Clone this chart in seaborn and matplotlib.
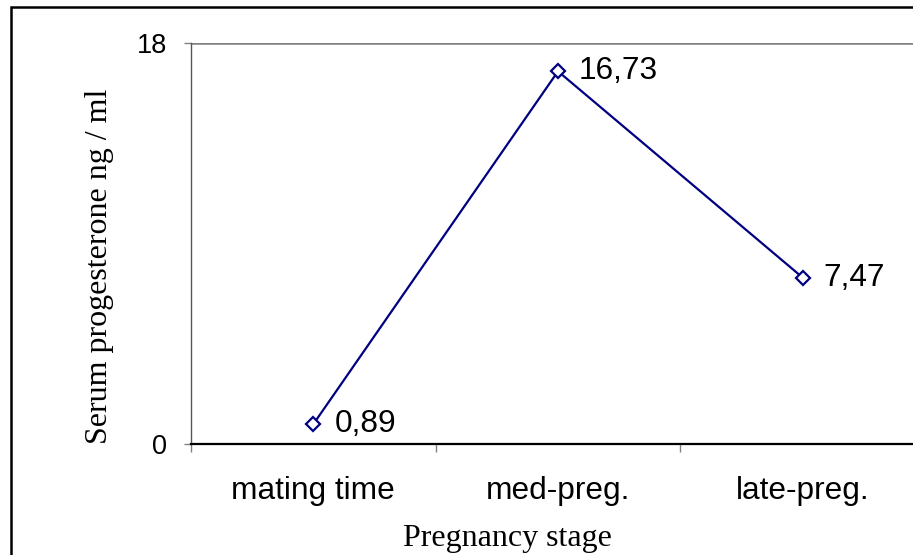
import matplotlib
matplotlib.use("Agg")
import matplotlib.pyplot as plt
import seaborn as sns
import pandas as pd
from matplotlib.patches import Rectangle
from matplotlib.ticker import FixedLocator

stages = ["mating time", "med-preg.", "late-preg."]
progesterone = [0.89, 16.73, 7.47]
value_labels = ["0,89", "16,73", "7,47"]
y_ticks = [0, 18]

sns.set_style("white")
plt.rcParams["font.family"] = ["Liberation Sans", "DejaVu Sans"]
plt.rcParams["text.color"] = "black"
plt.rcParams["xtick.color"] = "black"
plt.rcParams["ytick.color"] = "black"

df = pd.DataFrame({"stage": stages, "value": progesterone})

W, H = 913, 555
fig = plt.figure(figsize=(W / 100, H / 100), dpi=100)
fig.patch.set_facecolor("white")

left, right, top, bottom = 191, 925, 43, 444
ax = fig.add_axes([left / W, (H - bottom) / H, (right - left) / W, (bottom - top) / H])
ax.set_facecolor("white")

sns.lineplot(data=df, x="stage", y="value", ax=ax, color="#000080", linewidth=1.6,
             marker="D", markersize=7, markerfacecolor="white",
             markeredgecolor="#000080", markeredgewidth=1.6, sort=False)

ax.set_xlim(-0.5, 2.5)
ax.set_ylim(0, 18)

for i, (v, t) in enumerate(zip(progesterone, value_labels)):
    ax.annotate(t, (i, v), xytext=(21, 0), textcoords="offset pixels",
                ha="left", va="center", fontsize=22.8, color="black")

# gridline at top
ax.axhline(18, color="#808080", linewidth=1.8, zorder=0)

for s in ["top", "right"]:
    ax.spines[s].set_visible(False)
ax.spines["left"].set_color("#555555")
ax.spines["left"].set_linewidth(1.0)
ax.spines["bottom"].set_color("black")
ax.spines["bottom"].set_linewidth(1.6)

ax.set_yticks(y_ticks)
ax.set_yticklabels([str(v) for v in y_ticks], fontsize=19.5, color="black")
ax.tick_params(axis="y", which="major", length=5, width=1, color="#808080",
               direction="out", pad=12, left=True, labelcolor="black")

ax.set_xticks(range(len(stages)))
ax.set_xticklabels(stages, fontsize=22.8, color="black")
ax.xaxis.set_minor_locator(FixedLocator([-0.5, 0.5, 1.5, 2.5]))
ax.tick_params(axis="x", which="major", length=0, pad=23, bottom=True, labelcolor="black")
ax.tick_params(axis="x", which="minor", length=6, width=1, color="#808080",
               direction="out", bottom=True)

ax.set_xlabel("Pregnancy stage", family=["Liberation Serif", "DejaVu Serif"],
              fontsize=23, color="black")
ax.set_ylabel("Serum progesterone ng / ml", family=["Liberation Serif", "DejaVu Serif"],
              fontsize=23, color="black")

ax.xaxis.label.set_va("baseline")
ax.xaxis.set_label_coords((507 - left) / (right - left), -(546 - bottom) / (bottom - top))
ax.yaxis.label.set_va("center")
ax.yaxis.set_label_coords(-(left - 100) / (right - left), (bottom - 266) / (bottom - top))

border = Rectangle((11 / W, -0.1), 1.2, 1.1 - 6.5 / H, transform=fig.transFigure,
                   fill=False, edgecolor="black", linewidth=1.8, clip_on=False)
fig.patches.append(border)

fig.savefig("out.png", dpi=100, facecolor="white")
